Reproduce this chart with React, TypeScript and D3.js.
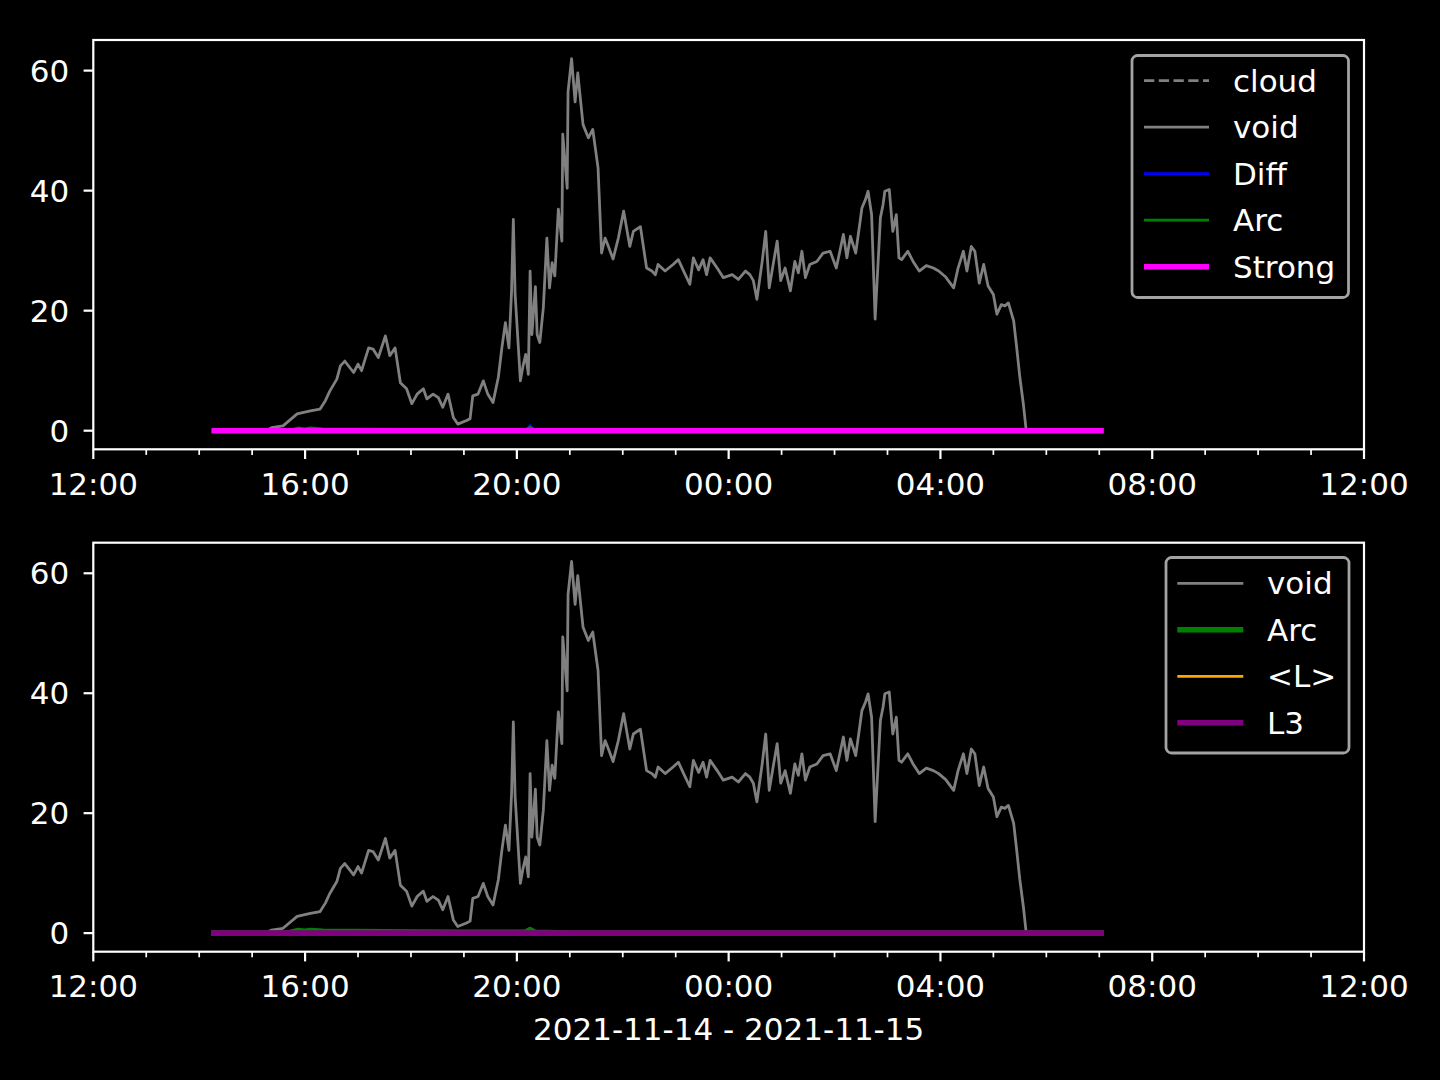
import React from 'react';
import * as d3 from 'd3';

// ---------- data ----------
const voidTimes = [
  '14:17','15:15','15:22','15:35','15:51','16:06','16:17','16:23','16:28','16:36','16:40','16:45','16:55','17:00','17:04','17:12','17:17','17:23','17:31','17:36','17:42','17:48','17:55','18:01','18:07','18:14','18:18','18:25','18:31','18:36','18:42','18:48','18:53','19:03','19:07','19:10','19:16','19:22','19:27','19:33','19:39','19:43','19:47','19:51','19:54','19:56','19:58','20:04','20:07','20:10','20:13','20:15','20:17','20:21','20:23','20:26','20:30','20:34','20:37','20:40','20:43','20:47','20:51','20:52','20:57','20:58','21:02','21:06','21:09','21:15','21:21','21:26','21:32','21:36','21:40','21:43','21:49','21:55','22:01','22:08','22:12','22:20','22:27','22:33','22:37','22:40','22:48','22:57','23:03','23:09','23:16','23:20','23:26','23:31','23:35','23:39','23:47','23:54','00:04','00:11','00:19','00:24','00:28','00:32','00:38','00:42','00:46','00:51','00:55','00:59','01:04','01:10','01:15','01:19','01:23','01:27','01:32','01:40','01:47','01:55','02:02','02:06','02:10','02:14','02:18','02:24','02:29','02:31','02:35','02:38','02:42','02:46','02:52','02:55','02:57','03:02','03:06','03:10','03:13','03:16','03:23','03:29','03:36','03:44','03:52','03:58','04:06','04:15','04:20','04:26','04:30','04:35','04:39','04:44','04:49','04:54','05:00','05:04','05:09','05:13','05:17','05:23','05:26','05:30','05:34','05:37','05:38','07:02'
];
const voidValues = [
  0,0,0.5,0.8,2.8,3.3,3.6,5,6.6,8.6,10.8,11.6,9.7,11.1,10,13.8,13.6,12.2,15.8,12.5,13.8,8,7,4.5,6.1,7,5.3,6.1,5.5,3.9,6.1,2.2,1.1,1.7,2,5.8,6.1,8.3,6.1,4.7,8.9,13.8,18,13.8,23.3,35.2,22.8,8.3,10.8,12.7,9.4,26.6,16,24,16,14.7,20.5,32.1,23.8,28,25.8,36.9,31.6,49.4,40.4,56.5,62,54.8,59.6,51,48.8,50.2,43.8,29.6,32.1,31,28.6,32.1,36.6,30.7,33.2,34,27.1,26.6,26,27.7,26.6,27.7,28.5,26.6,24.4,28.8,26.8,28.5,26,28.8,27.1,25.5,26,25.2,26.6,26,25,21.9,28.2,33.2,23.8,28.2,31.6,25,27.1,23.3,28.2,26.3,29.9,25.5,27.7,28.2,29.6,29.9,27.1,29.9,32.7,28.8,32.4,29.6,34.9,37.1,38.5,39.9,36,18.6,35.5,37.7,39.9,40.2,33.2,36,28.8,28.5,29.9,28.2,26.6,27.5,27.1,26.6,25.6,23.8,27.1,29.9,26.6,30.7,29.9,24.6,27.7,24.1,22.7,19.4,21,20.8,21.3,18.3,14.4,8.9,4.4,0.3,0,0
];
const flatTimes = ['14:17', '07:02'];
const flatValues = [0, 0];
const diffTimes = ['14:17', '20:11', '20:15', '20:19', '07:02'];
const diffValues = [0, 0, 0.9, 0, 0];
const arcTimes = ['14:17', '15:40', '15:52', '16:00', '16:06', '16:20', '17:00', '18:00', '19:00', '20:10', '20:15', '20:20', '21:00', '07:02'];
const arcValues = [0, 0, 0.45, 0.3, 0.45, 0.3, 0.25, 0.2, 0.15, 0.15, 0.6, 0.15, 0, 0];

const xTickLabels = ['12:00', '16:00', '20:00', '00:00', '04:00', '08:00', '12:00'];
const yTicks = [0, 20, 40, 60];
const xLabel = '2021-11-14 - 2021-11-15';

const toDate = (s: string) => {
  const [h, m] = s.split(':').map(Number);
  return new Date(2021, 10, h < 12 ? 15 : 14, h, m);
};

type Series = { name: string; times: string[]; values: number[]; color: string; width: number; dash?: string };

const topSeries: Series[] = [
  { name: 'cloud', times: flatTimes, values: flatValues, color: '#808080', width: 2.78, dash: '10.3,4.45' },
  { name: 'void', times: voidTimes, values: voidValues, color: '#808080', width: 2.78 },
  { name: 'Diff', times: diffTimes, values: diffValues, color: '#0000ff', width: 2.78 },
  { name: 'Arc', times: arcTimes, values: arcValues, color: '#008000', width: 2.78 },
  { name: 'Strong', times: flatTimes, values: flatValues, color: '#ff00ff', width: 5.56 },
];
const bottomSeries: Series[] = [
  { name: 'void', times: voidTimes, values: voidValues, color: '#808080', width: 2.78 },
  { name: 'Arc', times: arcTimes, values: arcValues, color: '#008000', width: 5.56 },
  { name: '<L>', times: flatTimes, values: flatValues, color: '#ffa500', width: 2.78 },
  { name: 'L3', times: flatTimes, values: flatValues, color: '#800080', width: 5.56 },
];

const FONT = 'DejaVu Sans, sans-serif';
const FS = 31;
const LEFT = 93.3;
const RIGHT = 1364;

const x = d3.scaleTime()
  .domain([new Date(2021, 10, 14, 12, 0), new Date(2021, 10, 15, 12, 0)])
  .range([LEFT, RIGHT]);

function Panel({ top, bottom, series, legend }: { top: number; bottom: number; series: Series[]; legend: { x: number; y: number; w: number; h: number; lineX0: number; lineX1: number; textX: number; rowY0: number; rowDy: number } }) {
  const y = d3.scaleLinear().domain([-3.1, 65.1]).range([bottom, top]);
  const majors = x.ticks(d3.timeHour.every(4)!);
  const minors = x.ticks(d3.timeHour.every(1)!).filter((d) => d.getHours() % 4 !== 0);
  const fmt = d3.timeFormat('%H:%M');
  const clipId = `clip${Math.round(top)}`;
  return (
    <g>
      <defs>
        <clipPath id={clipId}>
          <rect x={LEFT} y={top} width={RIGHT - LEFT} height={bottom - top} />
        </clipPath>
      </defs>
      <g clipPath={`url(#${clipId})`}>
        {series.map((s) => {
          const pts = s.times.map((t, i) => [toDate(t), s.values[i]] as [Date, number]);
          const line = d3.line<[Date, number]>().x((d) => x(d[0])).y((d) => y(d[1]));
          return (
            <path key={s.name} d={line(pts) || ''} fill="none" stroke={s.color} strokeWidth={s.width}
              strokeDasharray={s.dash} strokeLinejoin="round" strokeLinecap={s.dash ? 'butt' : 'square'} />
          );
        })}
      </g>
      <rect x={LEFT} y={top} width={RIGHT - LEFT} height={bottom - top} fill="none" stroke="#ffffff" strokeWidth={2.2} />
      {yTicks.map((v) => (
        <g key={v}>
          <line x1={LEFT - 9.7} x2={LEFT} y1={y(v)} y2={y(v)} stroke="#fff" strokeWidth={2.2} />
          <text x={LEFT - 24} y={y(v)} dy="0.36em" textAnchor="end" fill="#fff" fontFamily={FONT} fontSize={FS}>{v}</text>
        </g>
      ))}
      {majors.map((d, i) => (
        <g key={'M' + i}>
          <line x1={x(d)} x2={x(d)} y1={bottom} y2={bottom + 9.7} stroke="#fff" strokeWidth={2.2} />
          <text x={x(d)} y={bottom + 45.5} textAnchor="middle" fill="#fff" fontFamily={FONT} fontSize={FS}>{xTickLabels[i] ?? fmt(d)}</text>
        </g>
      ))}
      {minors.map((d, i) => (
        <line key={'m' + i} x1={x(d)} x2={x(d)} y1={bottom} y2={bottom + 5.6} stroke="#fff" strokeWidth={1.7} />
      ))}
      <rect x={legend.x} y={legend.y} width={legend.w} height={legend.h} rx={5.6} ry={5.6} fill="#000" stroke="#a3a3a3" strokeWidth={2.78} />
      {series.map((s, i) => {
        const ry = legend.rowY0 + i * legend.rowDy;
        return (
          <g key={'lg' + s.name}>
            <line x1={legend.lineX0} x2={legend.lineX1} y1={ry} y2={ry} stroke={s.color} strokeWidth={s.width} strokeDasharray={s.dash} strokeLinecap="butt" />
            <text x={legend.textX} y={ry} dy="0.36em" fill="#fff" fontFamily={FONT} fontSize={FS}>{s.name}</text>
          </g>
        );
      })}
    </g>
  );
}

export default function App() {
  return (
    <svg width={1440} height={1080} style={{ position: 'absolute', left: 0, top: 0, background: '#000' }}>
      <rect x={0} y={0} width={1440} height={1080} fill="#000" />
      <Panel top={40} bottom={449.3} series={topSeries}
        legend={{ x: 1132, y: 55.5, w: 216.5, h: 242, lineX0: 1144, lineX1: 1209, textX: 1233, rowY0: 80.7, rowDy: 46.5 }} />
      <Panel top={542.7} bottom={951.7} series={bottomSeries}
        legend={{ x: 1166, y: 557.5, w: 183, h: 195.5, lineX0: 1177.3, lineX1: 1243.3, textX: 1267, rowY0: 583.3, rowDy: 46.5 }} />
      <text x={(LEFT + RIGHT) / 2} y={1040} textAnchor="middle" fill="#fff" fontFamily={FONT} fontSize={FS}>{xLabel}</text>
    </svg>
  );
}
